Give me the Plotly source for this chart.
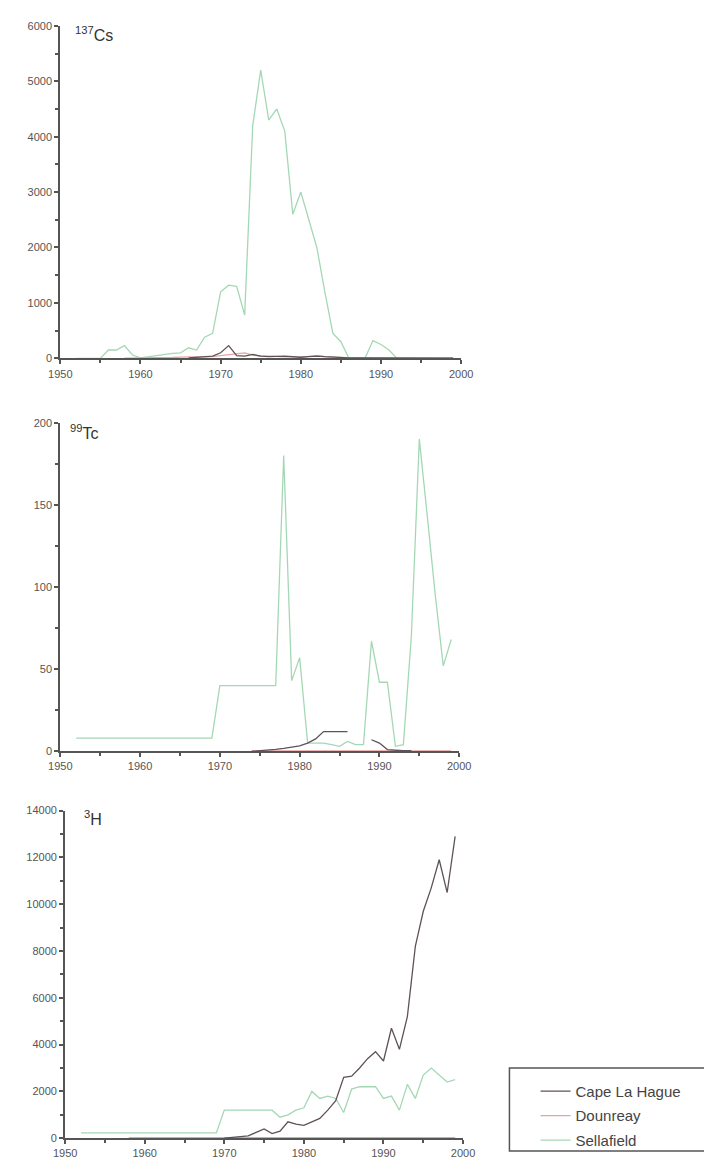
import plotly.graph_objects as go

# ---------------- data ----------------
# 137Cs
cs_sella_years = list(range(1952, 1993))
cs_sella = [0, 0, 0, 0, 150, 150, 230, 60, 10, 30, 50, 80, 90, 100, 190, 150, 380, 450,
            1200, 1320, 1300, 780, 4200, 5200, 4300, 4500, 4100, 2600, 3000, 2500, 2000,
            1200, 450, 300, 0, 0, 0, 320, 250, 150, 0]
cs_hague_years = list(range(1966, 2000))
cs_hague = [10, 20, 30, 40, 100, 230, 50, 40, 70, 40, 30, 40, 40, 30, 20, 30, 40, 30,
            20, 20, 10, 10, 10, 10, 10, 5, 5, 5, 5, 5, 5, 5, 5, 5]
cs_doun_years = list(range(1958, 2000))
cs_doun = [5, 5, 10, 10, 10, 15, 15, 20, 20, 20, 25, 30, 50, 70, 80, 100, 60, 40, 40, 30,
           30, 20, 20, 40, 50, 30, 20, 15, 10, 10, 10, 10, 10, 10, 10, 10, 10, 10, 10, 10, 10, 10]

# 99Tc
tc_sella_years = list(range(1952, 2000))
tc_sella = [8] * 18 + [40] * 8 + [180, 43, 57, 5, 5, 5, 4, 3, 6, 4, 4, 67, 42, 42, 3, 4,
                                  70, 190, 143, 95, 52, 68]
tc_hague_years = list(range(1974, 1995))
tc_hague = [0, 0.3, 0.7, 1.2, 1.8, 2.5, 3.3, 5, 7.5, 12, 12, 12, 12, None, None,
            7, 5, 1, 0.5, 0.3, 0.3]
tc_doun_years = list(range(1974, 2000))
tc_doun = [0.2] * 26

# 3H
h_sella_years = list(range(1952, 2000))
h_sella = [230] * 18 + [1200] * 7 + [900, 1000, 1200, 1300, 2000, 1700, 1800, 1700, 1100,
                                    2100, 2200, 2200, 2200, 1700, 1800, 1200, 2300, 1700,
                                    2700, 3000, 2700, 2400, 2500]
h_hague_years = list(range(1970, 2000))
h_hague = [0, 30, 50, 100, 250, 400, 200, 300, 700, 600, 550, 700, 850, 1200, 1600, 2600,
           2650, 3000, 3400, 3700, 3300, 4700, 3800, 5200, 8200, 9700, 10700, 11900,
           10500, 12900]
h_doun_years = list(range(1958, 2000))
h_doun = [20] * 42

series_names = ["Cape La Hague", "Dounreay", "Sellafield"]
panel_titles = ["<sup>137</sup>Cs", "<sup>99</sup>Tc", "<sup>3</sup>H"]
y_max = [6000, 200, 14000]
y_dtick = [1000, 50, 2000]

# ---------------- styling ----------------
W, H = 704, 1166
colors = {"Cape La Hague": "#5e5258", "Dounreay": "#e8a2a2", "Sellafield": "#a4d8b4"}
axis_col = "#555555"
tick_font = dict(family="Liberation Sans, Arial, sans-serif", size=11, color="#555555")

def px_x(v):
    return v / W

def px_y(v):
    return 1 - v / H

# pixel boxes: (x_left, x_right, y_top, y_bottom)
boxes = [(50, 465, 20, 356), (50, 463, 421, 753), (55, 467, 813, 1144)]

data = [
    {"Cape La Hague": (cs_hague_years, cs_hague), "Dounreay": (cs_doun_years, cs_doun),
     "Sellafield": (cs_sella_years, cs_sella)},
    {"Cape La Hague": (tc_hague_years, tc_hague), "Dounreay": (tc_doun_years, tc_doun),
     "Sellafield": (tc_sella_years, tc_sella)},
    {"Cape La Hague": (h_hague_years, h_hague), "Dounreay": (h_doun_years, h_doun),
     "Sellafield": (h_sella_years, h_sella)},
]

fig = go.Figure()
draw_order = ["Sellafield", "Dounreay", "Cape La Hague"]
for i, panel in enumerate(data):
    xa = "x" if i == 0 else f"x{i+1}"
    ya = "y" if i == 0 else f"y{i+1}"
    for name in draw_order:
        xs, ys = panel[name]
        fig.add_trace(go.Scatter(
            x=xs, y=ys, mode="lines", name=name,
            line=dict(color=colors[name], width=1.3),
            xaxis=xa, yaxis=ya, legendgroup=name,
            legendrank=series_names.index(name) + 1,
            showlegend=(i == 0), connectgaps=False,
        ))

layout = dict(
    width=W, height=H, margin=dict(l=0, r=0, t=0, b=0),
    paper_bgcolor="white", plot_bgcolor="white",
    showlegend=True,
    legend=dict(x=px_x(542), y=px_y(1080), xanchor="left", yanchor="top",
                bgcolor="rgba(0,0,0,0)", borderwidth=0,
                font=dict(family="Liberation Sans, Arial, sans-serif", size=15, color="#444444"),
                tracegroupgap=2, traceorder="grouped"),
)

annotations = []
for i in range(3):
    xl, xr, yt, yb = boxes[i]
    sfx = "" if i == 0 else str(i + 1)
    layout["xaxis" + sfx] = dict(
        domain=[px_x(xl), px_x(xr)], range=[1950, 2000], anchor="y" + sfx,
        showline=True, linecolor=axis_col, linewidth=2, showgrid=False, zeroline=False,
        ticks="outside", ticklen=4, tickwidth=1.5, tickcolor=axis_col,
        tick0=1950, dtick=10, tickfont=tick_font, tickformat="d",
        minor=dict(dtick=5, ticks="outside", ticklen=3, tickwidth=1.5, tickcolor=axis_col),
    )
    layout["yaxis" + sfx] = dict(
        domain=[px_y(yb), px_y(yt)], range=[0, y_max[i]], anchor="x" + sfx,
        showline=True, linecolor=axis_col, linewidth=2, showgrid=False, zeroline=False,
        ticks="outside", ticklen=4, tickwidth=1.5, tickcolor=axis_col,
        tick0=0, dtick=y_dtick[i], tickfont=tick_font, tickformat="d",
        minor=dict(dtick=y_dtick[i] / 2, ticks="outside", ticklen=3, tickwidth=1.5,
                   tickcolor=axis_col),
    )

title_pos = [(63, 28), (58, 430), (72, 820)]
for t, (ax, ay) in zip(panel_titles, title_pos):
    annotations.append(dict(
        text=t, xref="paper", yref="paper", x=px_x(ax), y=px_y(ay),
        xanchor="left", yanchor="middle", showarrow=False,
        font=dict(family="Liberation Sans, Arial, sans-serif", size=16, color="#333333"),
    ))
layout["annotations"] = annotations
layout["shapes"] = [dict(
    type="rect", xref="paper", yref="paper",
    x0=px_x(515), x1=px_x(720), y0=px_y(1157), y1=px_y(1073),
    line=dict(color="#555555", width=1.5), fillcolor="rgba(0,0,0,0)",
)]

fig.update_layout(**layout)
fig.write_html("out.html")
